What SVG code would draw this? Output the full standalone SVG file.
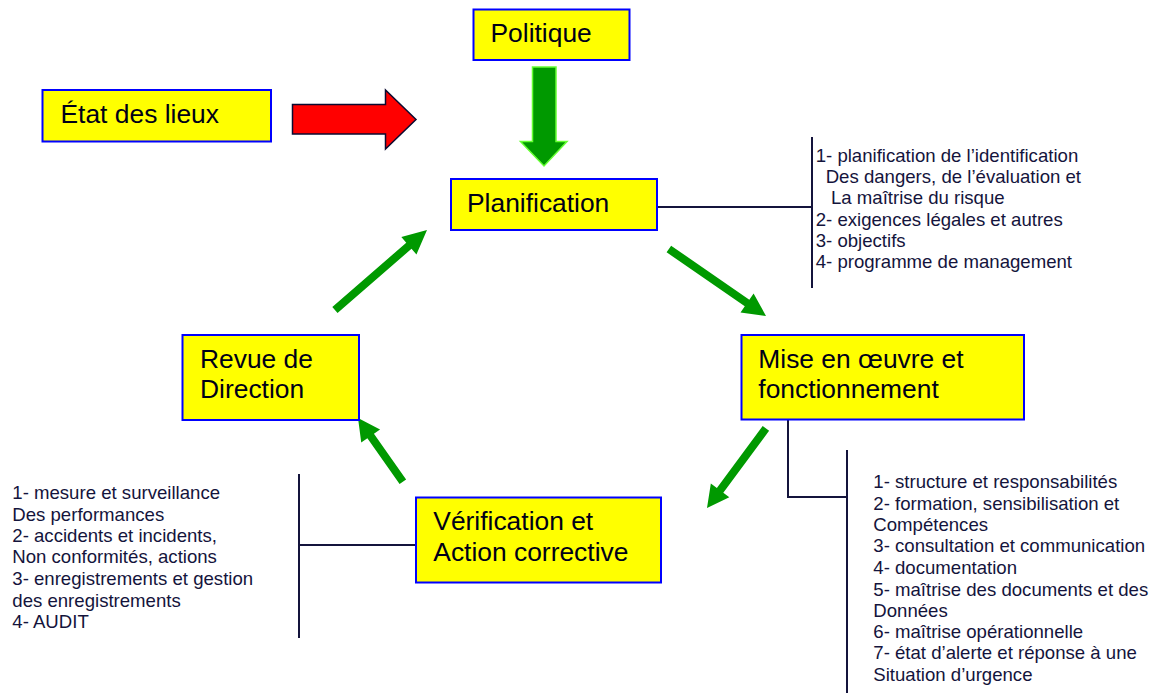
<svg xmlns="http://www.w3.org/2000/svg" width="1153" height="693" viewBox="0 0 1153 693">
<style>
.box{fill:#ffff00;stroke:#0000ff;stroke-width:2}
.bt{font-family:"Liberation Sans",Arial,sans-serif;font-size:26.4px;fill:#000018}
.lt{font-family:"Liberation Sans",Arial,sans-serif;font-size:18.6px;fill:#14143c}
.ln{stroke:#14143c;stroke-width:2;fill:none}
.ga{fill:#009900}
</style>
<rect width="1153" height="693" fill="#ffffff"/>
<g id="connectors">
<path class="ln" d="M657,207 H812 M812,137 V288"/>
<path class="ln" d="M788,417 V497 H847 M847,450 V693"/>
<path class="ln" d="M416,545 H299 M299,474 V638"/>
<polygon points="292.5,104.5 385.5,104.5 385.5,90 416,119.5 385.5,149 385.5,134 292.5,134" fill="#ff0000" stroke="#0a0a30" stroke-width="1.5"/>
<polygon points="532.5,67 556,67 556,141.5 567,141.5 544,166 520.5,141.5 532.5,141.5" fill="#009900" stroke="#66ff33" stroke-width="1.5"/>
<polygon class="ga" transform="translate(766,316) rotate(34.6)" points="-118,-4 -23,-4 -23,-11.5 0,0 -23,11.5 -23,4 -118,4"/>
<polygon class="ga" transform="translate(707,508) rotate(126.5)" points="-99,-4 -22,-4 -22,-11.5 0,0 -22,11.5 -22,4 -99,4"/>
<polygon class="ga" transform="translate(358,418) rotate(234.9)" points="-78,-4 -22,-4 -22,-11.5 0,0 -22,11.5 -22,4 -78,4"/>
<polygon class="ga" transform="translate(427,230) rotate(-41)" points="-122,-4 -24,-4 -24,-11.5 0,0 -24,11.5 -24,4 -122,4"/>
</g>
<g id="etat">
<rect class="box" x="42.5" y="90" width="228.5" height="51.5"/>
<text class="bt" x="60.5" y="123.3">État des lieux</text>
</g>
<g id="politique">
<rect class="box" x="473.5" y="9.5" width="156" height="50.5"/>
<text class="bt" x="490.5" y="41.7">Politique</text>
</g>
<g id="planification">
<rect class="box" x="451" y="179" width="206" height="51"/>
<text class="bt" x="467" y="211.5">Planification</text>
</g>
<g id="mise">
<rect class="box" x="741.5" y="335" width="282.5" height="84.5"/>
<text class="bt" x="758.3" y="368.3">Mise en œuvre et</text>
<text class="bt" x="758.3" y="398.3">fonctionnement</text>
</g>
<g id="verification">
<rect class="box" x="416" y="497.5" width="245" height="85"/>
<text class="bt" x="433.3" y="530">Vérification et</text>
<text class="bt" x="433.3" y="561">Action corrective</text>
</g>
<g id="revue">
<rect class="box" x="182.5" y="335" width="176.5" height="85"/>
<text class="bt" x="200" y="367.7">Revue de</text>
<text class="bt" x="200" y="398">Direction</text>
</g>
<g id="list-planification">
<text class="lt" x="815.7" y="162.3">1- planification de l’identification</text>
<text class="lt" x="825.7" y="183.3">Des dangers, de l’évaluation et</text>
<text class="lt" x="831" y="204.3">La maîtrise du risque</text>
<text class="lt" x="815.7" y="225.7">2- exigences légales et autres</text>
<text class="lt" x="815.7" y="247.3">3- objectifs</text>
<text class="lt" x="815.7" y="268.3">4- programme de management</text>
</g>
<g id="list-mise">
<text class="lt" x="873.3" y="488.3">1- structure et responsabilités</text>
<text class="lt" x="873.3" y="510">2- formation, sensibilisation et</text>
<text class="lt" x="873.3" y="530.7">Compétences</text>
<text class="lt" x="873.3" y="552.3">3- consultation et communication</text>
<text class="lt" x="873.3" y="574">4- documentation</text>
<text class="lt" x="873.3" y="595.7">5- maîtrise des documents et des</text>
<text class="lt" x="873.3" y="616.7">Données</text>
<text class="lt" x="873.3" y="638.3">6- maîtrise opérationnelle</text>
<text class="lt" x="873.3" y="659.3">7- état d’alerte et réponse à une</text>
<text class="lt" x="873.3" y="680.7">Situation d’urgence</text>
</g>
<g id="list-verification">
<text class="lt" x="12.3" y="499">1- mesure et surveillance</text>
<text class="lt" x="12.3" y="520.7">Des performances</text>
<text class="lt" x="12.3" y="541.7">2- accidents et incidents,</text>
<text class="lt" x="12.3" y="563.3">Non conformités, actions</text>
<text class="lt" x="12.3" y="585">3- enregistrements et gestion</text>
<text class="lt" x="12.3" y="606.7">des enregistrements</text>
<text class="lt" x="12.3" y="627.7">4- AUDIT</text>
</g>
</svg>
